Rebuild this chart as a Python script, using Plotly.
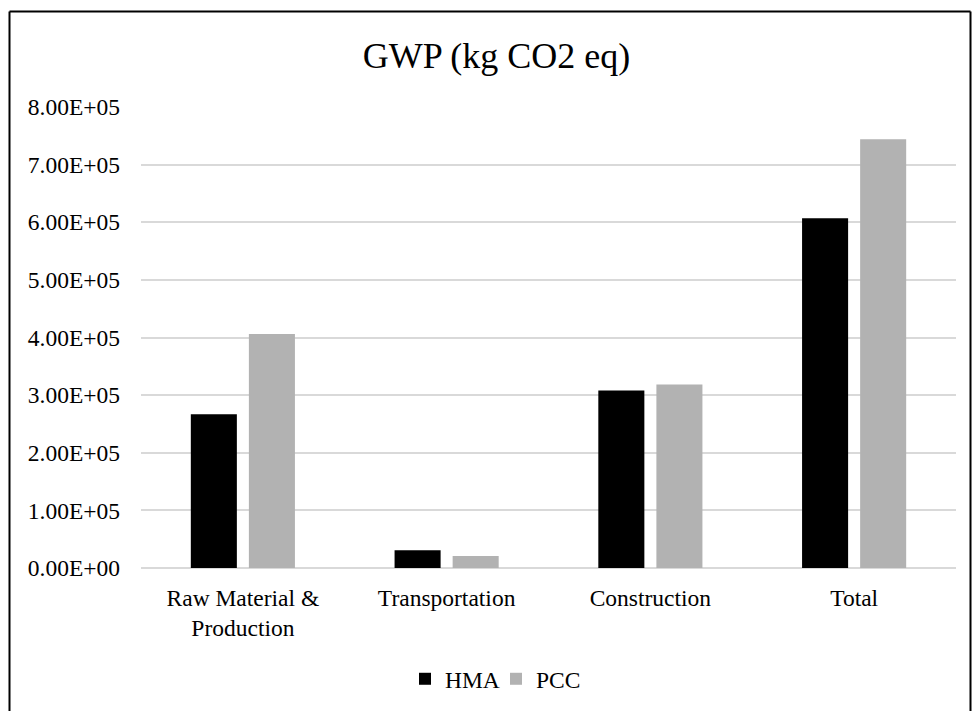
import plotly.graph_objects as go

categories = ["Raw Material &<br>Production", "Transportation", "Construction", "Total"]
hma_values = [2.67e5, 3.1e4, 3.08e5, 6.07e5]
pcc_values = [4.06e5, 2.1e4, 3.185e5, 7.44e5]
y_ticks = [0, 1e5, 2e5, 3e5, 4e5, 5e5, 6e5, 7e5, 8e5]
y_ticktext = [f"{v:.2E}" for v in y_ticks]

FONT = "Liberation Serif, Times New Roman, serif"
W, H = 972, 711
ML, MR, MT, MB = 141, 16, 107, 143
PW = W - ML - MR
PH = H - MT - MB

def px_x(px):
    return (px - ML) / PW

def px_y(py):
    return (H - MB - py) / PH

fig = go.Figure()
fig.add_trace(go.Bar(name="HMA", x=categories, y=hma_values, marker=dict(color="#000000", line=dict(width=0))))
fig.add_trace(go.Bar(name="PCC", x=categories, y=pcc_values, marker=dict(color="#b2b2b2", line=dict(width=0))))

fig.update_layout(
    width=W, height=H,
    margin=dict(l=ML, r=MR, t=MT, b=MB, autoexpand=False),
    paper_bgcolor="white", plot_bgcolor="white",
    barmode="group", bargap=0.43, bargroupgap=0.207,
    font=dict(family=FONT, size=23.5, color="#000000"),
    title=dict(text="GWP (kg CO2 eq)", font=dict(family=FONT, size=36, color="#000000"),
               x=496.5 / W, xanchor="center", xref="container",
               y=1 - 55 / H, yanchor="middle", yref="container"),
    showlegend=True,
    legend=dict(orientation="h", xref="container", yref="container",
                x=496 / W, xanchor="center", y=1 - 679 / H, yanchor="middle",
                font=dict(family=FONT, size=23.5, color="#000000"),
                itemwidth=30, entrywidth=46, tracegroupgap=0, bgcolor="rgba(0,0,0,0)"),
    xaxis=dict(showgrid=False, showline=False, ticks="", zeroline=False,
               ticklabelstandoff=13,
               tickfont=dict(family=FONT, size=23.5, color="#000000")),
    yaxis=dict(range=[0, 8e5], tickvals=y_ticks, ticktext=y_ticktext,
               showgrid=True, gridcolor="#d9d9d9", gridwidth=1.5,
               zeroline=True, zerolinecolor="#d9d9d9", zerolinewidth=1.5,
               showline=False, ticks="", ticklabelstandoff=20,
               tickfont=dict(family=FONT, size=23.5, color="#000000")),
)

# outer chart border (left, top, right)
fig.add_shape(type="line", xref="paper", yref="paper",
              x0=px_x(9.5), x1=px_x(9.5), y0=px_y(11.5), y1=px_y(720),
              line=dict(color="#000000", width=2))
fig.add_shape(type="line", xref="paper", yref="paper",
              x0=px_x(9.5), x1=px_x(970.5), y0=px_y(11.5), y1=px_y(11.5),
              line=dict(color="#000000", width=2))
fig.add_shape(type="line", xref="paper", yref="paper",
              x0=px_x(970.5), x1=px_x(970.5), y0=px_y(11.5), y1=px_y(720),
              line=dict(color="#000000", width=2))

fig.write_html("out.html")
